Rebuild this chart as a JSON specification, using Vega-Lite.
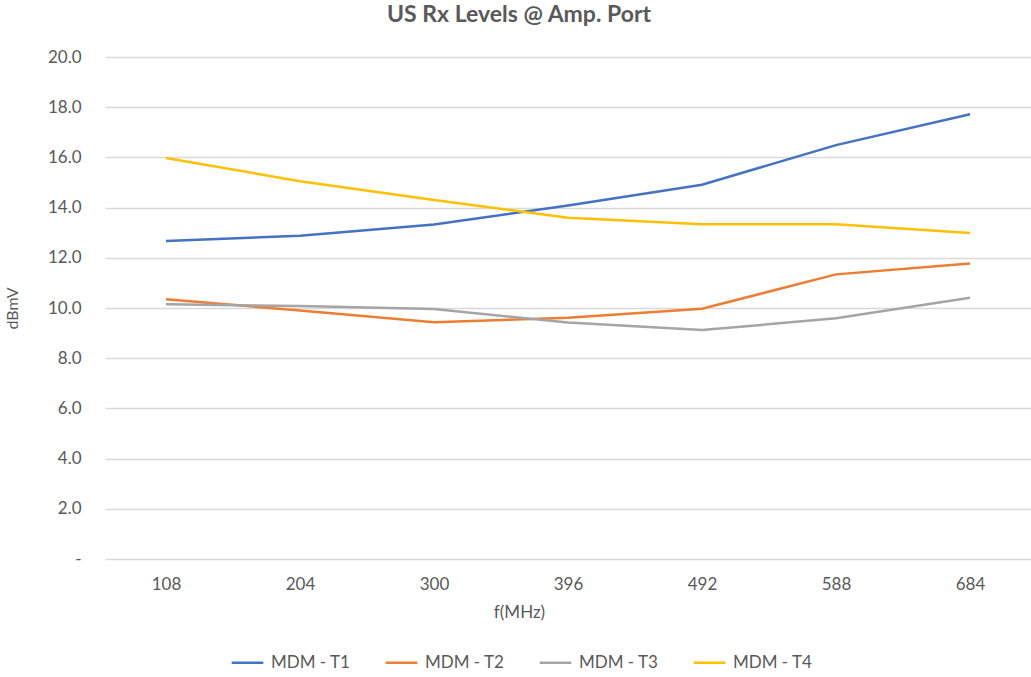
{
  "$schema": "https://vega.github.io/schema/vega-lite/v6.json",
  "autosize": "none",
  "width": 926,
  "height": 502,
  "padding": {"left": 105, "top": 57, "right": 0, "bottom": 118},
  "background": "white",
  "title": {
    "text": "US Rx Levels @ Amp. Port",
    "fontSize": 23,
    "fontWeight": "bold",
    "font": "Lato",
    "color": "#595959",
    "anchor": "middle",
    "dx": -49,
    "offset": 21
  },
  "data": {
    "values": [
      {"f": "108", "series": "MDM - T1", "v": 12.67},
      {"f": "204", "series": "MDM - T1", "v": 12.88},
      {"f": "300", "series": "MDM - T1", "v": 13.33},
      {"f": "396", "series": "MDM - T1", "v": 14.08},
      {"f": "492", "series": "MDM - T1", "v": 14.91},
      {"f": "588", "series": "MDM - T1", "v": 16.49},
      {"f": "684", "series": "MDM - T1", "v": 17.72},
      {"f": "108", "series": "MDM - T2", "v": 10.35},
      {"f": "204", "series": "MDM - T2", "v": 9.9},
      {"f": "300", "series": "MDM - T2", "v": 9.43},
      {"f": "396", "series": "MDM - T2", "v": 9.61},
      {"f": "492", "series": "MDM - T2", "v": 9.97},
      {"f": "588", "series": "MDM - T2", "v": 11.34},
      {"f": "684", "series": "MDM - T2", "v": 11.77},
      {"f": "108", "series": "MDM - T3", "v": 10.15},
      {"f": "204", "series": "MDM - T3", "v": 10.08},
      {"f": "300", "series": "MDM - T3", "v": 9.96},
      {"f": "396", "series": "MDM - T3", "v": 9.42},
      {"f": "492", "series": "MDM - T3", "v": 9.12},
      {"f": "588", "series": "MDM - T3", "v": 9.59},
      {"f": "684", "series": "MDM - T3", "v": 10.41},
      {"f": "108", "series": "MDM - T4", "v": 15.98},
      {"f": "204", "series": "MDM - T4", "v": 15.05},
      {"f": "300", "series": "MDM - T4", "v": 14.3},
      {"f": "396", "series": "MDM - T4", "v": 13.6},
      {"f": "492", "series": "MDM - T4", "v": 13.34},
      {"f": "588", "series": "MDM - T4", "v": 13.34},
      {"f": "684", "series": "MDM - T4", "v": 12.99}
    ]
  },
  "config": {
    "view": {"stroke": null},
    "font": "Lato"
  },
  "mark": {"type": "line", "strokeWidth": 2.5, "interpolate": "linear"},
  "encoding": {
    "x": {
      "field": "f",
      "type": "ordinal",
      "sort": null,
      "scale": {"type": "point", "padding": 0.455},
      "axis": {
        "title": "f(MHz)",
        "titleFont": "Lato",
        "titleFontSize": 17,
        "titleFontWeight": "normal",
        "titleColor": "#595959",
        "titlePadding": 12,
        "titleX": 414,
        "labelFont": "Lato",
        "labelFontSize": 17,
        "labelColor": "#595959",
        "labelAngle": 0,
        "labelPadding": 17,
        "ticks": false,
        "domain": false,
        "grid": false
      }
    },
    "y": {
      "field": "v",
      "type": "quantitative",
      "scale": {"domain": [0, 20]},
      "axis": {
        "title": "dBmV",
        "titleFont": "Lato",
        "titleFontSize": 16,
        "titleFontWeight": "normal",
        "titleColor": "#595959",
        "titlePadding": 27,
        "values": [0, 2, 4, 6, 8, 10, 12, 14, 16, 18, 20],
        "labelExpr": "datum.value == 0 ? '-' : format(datum.value, '.1f')",
        "labelFont": "Lato",
        "labelFontSize": 17,
        "labelColor": "#595959",
        "labelPadding": 24,
        "ticks": false,
        "domain": false,
        "grid": true,
        "gridColor": "#d9d9d9",
        "gridWidth": 1.5
      }
    },
    "color": {
      "field": "series",
      "type": "nominal",
      "scale": {
        "domain": ["MDM - T1", "MDM - T2", "MDM - T3", "MDM - T4"],
        "range": ["#4472C4", "#ED7D31", "#A5A5A5", "#FFC000"]
      },
      "legend": {
        "title": null,
        "orient": "none",
        "legendX": 125,
        "legendY": 588,
        "direction": "horizontal",
        "columns": 4,
        "symbolType": "stroke",
        "symbolSize": 1000,
        "symbolStrokeWidth": 2.5,
        "labelFont": "Lato",
        "labelFontSize": 17,
        "labelColor": "#595959",
        "labelOffset": 6,
        "columnPadding": 29
      }
    }
  }
}
